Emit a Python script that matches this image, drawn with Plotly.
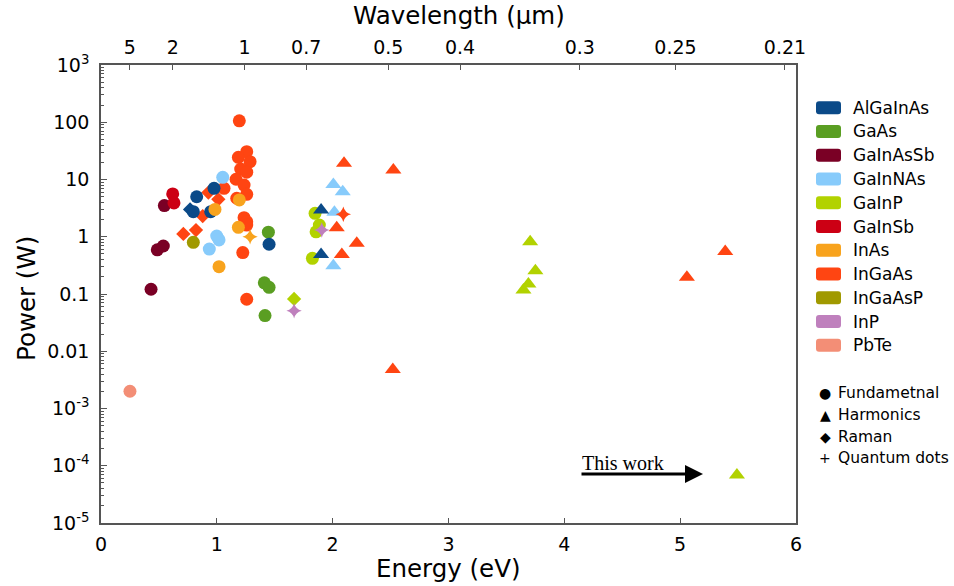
import numpy as np
import plotly.graph_objects as go

W, H = 954, 586

# ---------------- data (energy in eV, power in W, kind: F=fundamental, H=harmonics, R=Raman, Q=quantum dots)
ALGAINAS_E = [0.976, 0.826, 0.797, 0.947, 1.451, 0.769, 1.90, 1.90]
ALGAINAS_P = [7.0, 5.0, 2.74, 2.74, 0.74, 3.0, 2.93, 0.49]
ALGAINAS_K = ["F", "F", "F", "F", "F", "R", "H", "H"]

GAAS_E = [1.445, 1.41, 1.451, 1.416]
GAAS_P = [1.2, 0.157, 0.131, 0.042]
GAAS_K = ["F", "F", "F", "F"]

GAINASSB_E = [0.547, 0.486, 0.538, 0.432]
GAINASSB_P = [3.5, 0.59, 0.69, 0.121]
GAINASSB_K = ["F", "F", "F", "F"]

GAINNAS_E = [1.051, 0.999, 1.019, 0.935, 2.006, 2.087, 2.015, 2.006]
GAINNAS_P = [10.9, 1.03, 0.88, 0.61, 8.2, 6.1, 2.67, 0.31]
GAINNAS_K = ["F", "F", "F", "F", "H", "H", "H", "H"]

GAINP_E = [1.848, 1.885, 1.857, 1.825, 3.705, 3.75, 3.69, 3.647, 5.49, 1.667]
GAINP_P = [2.57, 1.6, 1.22, 0.42, 0.82, 0.255, 0.15, 0.117, 6.9e-5, 0.082]
GAINP_K = ["F", "F", "F", "F", "H", "H", "H", "H", "H", "R"]

GAINSB_E = [0.619, 0.63]
GAINSB_P = [5.6, 3.9]
GAINSB_K = ["F", "F"]

INAS_E = [1.194, 0.984, 1.186, 1.019, 1.287]
INAS_P = [4.4, 3.0, 1.46, 0.30, 1.0]
INAS_K = ["F", "F", "F", "F", "Q"]

INGAAS_E = [1.194, 1.258, 1.186, 1.287, 1.206, 1.258, 1.166, 1.235, 1.258, 1.172, 1.062,
            1.235, 1.258, 1.258, 1.224, 1.258,
            0.927, 1.013, 0.878, 0.711, 0.820,
            2.098, 2.524, 2.035, 2.208, 2.079, 2.519, 5.058, 5.389,
            2.092]
INGAAS_P = [106, 30.6, 24.4, 20.5, 15.2, 13.4, 10.1, 8.0, 5.5, 4.7, 7.0,
            2.15, 1.83, 1.6, 0.53, 0.081,
            5.9, 4.5, 2.3, 1.12, 1.31,
            19.2, 14.7, 1.44, 0.77, 0.49, 0.0048, 0.196, 0.55,
            2.47]
INGAAS_K = ["F"] * 16 + ["R"] * 5 + ["H"] * 8 + ["Q"]

INGAASP_E = [0.797]
INGAASP_P = [0.8]
INGAASP_K = ["F"]

INP_E = [1.667, 1.906]
INP_P = [0.051, 1.31]
INP_K = ["Q", "Q"]

PBTE_E = [0.25]
PBTE_P = [0.002]
PBTE_K = ["F"]

MATERIALS = ["AlGaInAs", "GaAs", "GaInAsSb", "GaInNAs", "GaInP", "GaInSb",
             "InAs", "InGaAs", "InGaAsP", "InP", "PbTe"]
COLORS = ["#0b4a88", "#5a9e22", "#7a0025", "#87cbfb", "#b2d200", "#cc0014",
          "#f8a31d", "#ff4512", "#a09900", "#bf80bd", "#f38e76"]
SERIES = {
    "AlGaInAs": (ALGAINAS_E, ALGAINAS_P, ALGAINAS_K),
    "GaAs": (GAAS_E, GAAS_P, GAAS_K),
    "GaInAsSb": (GAINASSB_E, GAINASSB_P, GAINASSB_K),
    "GaInNAs": (GAINNAS_E, GAINNAS_P, GAINNAS_K),
    "GaInP": (GAINP_E, GAINP_P, GAINP_K),
    "GaInSb": (GAINSB_E, GAINSB_P, GAINSB_K),
    "InAs": (INAS_E, INAS_P, INAS_K),
    "InGaAs": (INGAAS_E, INGAAS_P, INGAAS_K),
    "InGaAsP": (INGAASP_E, INGAASP_P, INGAASP_K),
    "InP": (INP_E, INP_P, INP_K),
    "PbTe": (PBTE_E, PBTE_P, PBTE_K),
}
DRAW_ORDER = ["InP", "InGaAs", "GaInP", "GaInNAs", "GaAs", "GaInAsSb", "GaInSb",
              "AlGaInAs", "InAs", "InGaAsP", "PbTe"]

KINDS = ["R", "F", "H", "Q"]
KIND_SYMBOL = {"F": "circle", "H": "triangle-up", "R": "diamond", "Q": "star-diamond"}
KIND_SIZE = {"F": 13, "H": 14, "R": 11, "Q": 11}
KIND_LABELS = ["Fundametnal", "Harmonics", "Raman", "Quantum dots"]
KIND_GLYPHS = ["●", "▲", "◆", "+"]

WAVELENGTH_TICKS = ["5", "2", "1", "0.7", "0.5", "0.4", "0.3", "0.25", "0.21"]
Y_TICKVALS = [1e3, 1e2, 1e1, 1, 1e-1, 1e-2, 1e-3, 1e-4, 1e-5]
Y_TICKTEXT = ["10<sup>3</sup>", "100", "10", "1", "0.1", "0.01",
              "10<sup>-3</sup>", "10<sup>-4</sup>", "10<sup>-5</sup>"]
X_TICKS = [0, 1, 2, 3, 4, 5, 6]

# ---------------- layout geometry (pixels)
PL, PR, PT, PB = 101, 796, 65, 523


def px(x):
    return x / W


def py(y):
    return 1 - y / H


color_of = dict(zip(MATERIALS, COLORS))

fig = go.Figure()
for kind in KINDS:
    for mat in DRAW_ORDER:
        E, P, K = SERIES[mat]
        xs = [e for e, k in zip(E, K) if k == kind]
        ys = [p for p, k in zip(P, K) if k == kind]
        if not xs:
            continue
        fig.add_trace(go.Scatter(
            x=xs, y=ys, mode="markers", showlegend=False, name=mat,
            marker=dict(symbol=KIND_SYMBOL[kind], size=KIND_SIZE[kind],
                        color=color_of[mat], line=dict(width=0)),
        ))

# dummy trace for top axis
fig.add_trace(go.Scatter(x=[None], y=[None], xaxis="x2", yaxis="y", showlegend=False))

axis_color = "#555555"
tickfont = dict(family="DejaVu Sans", size=19, color="black")

minor_vals = [k * 10.0 ** d for d in range(-5, 3) for k in range(2, 10)]

fig.update_layout(
    width=W, height=H,
    margin=dict(l=0, r=0, t=0, b=0, autoexpand=False),
    paper_bgcolor="white", plot_bgcolor="white",
    showlegend=False,
    xaxis=dict(domain=[PL / W, PR / W], range=[0, 6], tickmode="array",
               tickvals=X_TICKS, ticktext=[str(v) for v in X_TICKS],
               ticks="inside", ticklen=5, tickwidth=1, tickcolor=axis_color,
               showline=True, linecolor=axis_color, linewidth=1.5,
               showgrid=False, zeroline=False, tickfont=tickfont,
               ticklabelstandoff=3, anchor="y", automargin=False),
    xaxis2=dict(overlaying="x", side="top", range=[0, 6], tickmode="array",
                tickvals=[1.24 / float(t) for t in WAVELENGTH_TICKS],
                ticktext=WAVELENGTH_TICKS,
                ticks="inside", ticklen=5, tickwidth=1, tickcolor=axis_color,
                showline=True, linecolor=axis_color, linewidth=1.5,
                showgrid=False, zeroline=False, tickfont=tickfont,
                ticklabelstandoff=2, anchor="y", automargin=False),
    yaxis=dict(domain=[1 - PB / H, 1 - PT / H], type="log", range=[-5, 3],
               tickmode="array", tickvals=Y_TICKVALS, ticktext=Y_TICKTEXT,
               ticks="inside", ticklen=6, tickwidth=1, tickcolor=axis_color,
               minor=dict(tickmode="array", tickvals=minor_vals, ticks="inside",
                          ticklen=3, tickcolor=axis_color, showgrid=False),
               showline=True, linecolor=axis_color, linewidth=1.5, mirror=True,
               showgrid=False, zeroline=False, tickfont=tickfont,
               ticklabelstandoff=6, anchor="x", automargin=False),
)

annotations = []
title_font = dict(family="DejaVu Sans", size=24.5, color="black")
annotations.append(dict(text="Wavelength (μm)", x=px(459), y=py(16), xref="paper", yref="paper",
                        showarrow=False, font=title_font, xanchor="center", yanchor="middle"))
annotations.append(dict(text="Energy (eV)", x=px(448), y=py(568), xref="paper", yref="paper",
                        showarrow=False, font=title_font, xanchor="center", yanchor="middle"))
annotations.append(dict(text="Power (W)", x=px(26), y=py(299), xref="paper", yref="paper",
                        showarrow=False, font=title_font, textangle=-90,
                        xanchor="center", yanchor="middle"))
# "This work" marker
annotations.append(dict(text="This work", x=px(580), y=py(463), xref="paper", yref="paper",
                        showarrow=False, xanchor="left", yanchor="middle",
                        font=dict(family="Liberation Serif", size=20, color="black")))
annotations.append(dict(text="", x=px(703), y=py(474), xref="paper", yref="paper",
                        showarrow=True, ax=-123, ay=0, arrowhead=2, arrowsize=1.2,
                        arrowwidth=3, arrowcolor="black"))

shapes = []
# color legend
row0, dy = 107.7, 23.76
for i, (mat, col) in enumerate(zip(MATERIALS, COLORS)):
    yc = row0 + i * dy
    x0, x1, y0, y1 = 816, 841, yc - 6.5, yc + 6.5
    r = 3
    path = (f"M {px(x0 + r)},{py(y0)} L {px(x1 - r)},{py(y0)} "
            f"Q {px(x1)},{py(y0)} {px(x1)},{py(y0 + r)} L {px(x1)},{py(y1 - r)} "
            f"Q {px(x1)},{py(y1)} {px(x1 - r)},{py(y1)} L {px(x0 + r)},{py(y1)} "
            f"Q {px(x0)},{py(y1)} {px(x0)},{py(y1 - r)} L {px(x0)},{py(y0 + r)} "
            f"Q {px(x0)},{py(y0)} {px(x0 + r)},{py(y0)} Z")
    shapes.append(dict(type="path", path=path, xref="paper", yref="paper",
                       fillcolor=col, line=dict(width=0)))
    annotations.append(dict(text=mat, x=px(851), y=py(yc), xref="paper", yref="paper",
                            showarrow=False, xanchor="left", yanchor="middle",
                            font=dict(family="DejaVu Sans", size=17, color="black")))

# marker-shape legend
srow0, sdy = 392.7, 21.9
for i, (lab, g) in enumerate(zip(KIND_LABELS, KIND_GLYPHS)):
    yc = srow0 + i * sdy
    annotations.append(dict(text=g, x=px(825), y=py(yc), xref="paper", yref="paper",
                            showarrow=False, xanchor="center", yanchor="middle",
                            font=dict(family="DejaVu Sans", size=14, color="black")))
    annotations.append(dict(text=lab, x=px(836), y=py(yc), xref="paper", yref="paper",
                            showarrow=False, xanchor="left", yanchor="middle",
                            font=dict(family="DejaVu Sans", size=15.5, color="black")))

fig.update_layout(annotations=annotations, shapes=shapes)
fig.write_html("out.html")
